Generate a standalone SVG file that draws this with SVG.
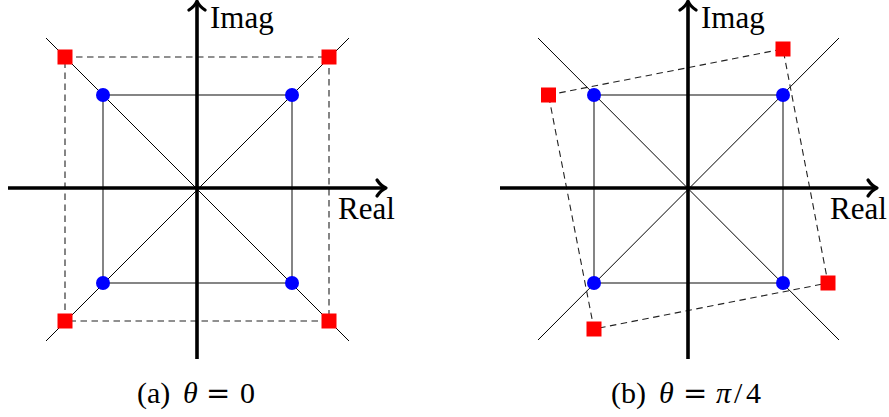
<svg xmlns="http://www.w3.org/2000/svg" width="889" height="417" viewBox="0 0 889 417">
<style>
.axis{stroke:#000;stroke-width:3.6;fill:none}
.tip{stroke:#000;stroke-width:3.2;fill:none;stroke-linecap:round;stroke-linejoin:round}
.diag{stroke:#000;stroke-width:1;fill:none}
.sq{stroke:#444;stroke-width:1.3;fill:none}
.dash{stroke:#222;stroke-width:1.1;fill:none;stroke-dasharray:6.5 4.5}
.dot{fill:#0000ff}
.red{fill:#ff0000}
.lbl{font-family:"Liberation Serif","Times New Roman",serif;font-size:31px;fill:#000}
.cap{font-family:"Liberation Serif","Times New Roman",serif;font-size:30px;fill:#000}
.it{font-style:italic}
.eq{font-family:"DejaVu Serif",serif;font-size:29px}
</style>
<rect width="889" height="417" fill="#fff"/>
<g id="connectors">
  <path class="diag" d="M46,38 L349,341 M46,341 L349,38"/>
  <rect class="sq" x="103" y="95" width="189" height="188"/>
  <rect class="dash" x="65" y="57" width="264" height="264"/>
  <path class="diag" d="M538,38 L839,340 M538,340 L839,38"/>
  <rect class="sq" x="594" y="95" width="189" height="188"/>
  <path class="dash" d="M548.5,95 L783,49 L828,283 L594,329 Z"/>
</g>
<g id="axes-a">
  <path class="axis" d="M8,188 L384,188 M197,359 L197,3"/>
  <path class="tip" d="M377,180 Q381,186 386,188 Q381,190 377,196"/>
  <path class="tip" d="M189,10 Q195,6 197,1 Q199,6 205,10"/>
</g>
<g id="axes-b">
  <path class="axis" d="M500,188 L875,188 M688,359 L688,3"/>
  <path class="tip" d="M868,180 Q872,186 877,188 Q872,190 868,196"/>
  <path class="tip" d="M680,10 Q686,6 688,1 Q690,6 696,10"/>
</g>
<g id="nodes-a">
  <circle id="a-p1" class="dot" cx="103" cy="95" r="7"/>
  <circle id="a-p2" class="dot" cx="292" cy="95" r="7"/>
  <circle id="a-p3" class="dot" cx="103" cy="283" r="7"/>
  <circle id="a-p4" class="dot" cx="292" cy="283" r="7"/>
  <rect id="a-q1" class="red" x="57.5" y="49.5" width="15" height="15"/>
  <rect id="a-q2" class="red" x="321.5" y="49.5" width="15" height="15"/>
  <rect id="a-q3" class="red" x="57.5" y="313.5" width="15" height="15"/>
  <rect id="a-q4" class="red" x="321.5" y="313.5" width="15" height="15"/>
</g>
<g id="nodes-b">
  <circle id="b-p1" class="dot" cx="594" cy="95" r="7"/>
  <circle id="b-p2" class="dot" cx="783" cy="95" r="7"/>
  <circle id="b-p3" class="dot" cx="594" cy="283" r="7"/>
  <circle id="b-p4" class="dot" cx="783" cy="283" r="7"/>
  <rect id="b-q1" class="red" x="541" y="87.5" width="15" height="15"/>
  <rect id="b-q2" class="red" x="775.5" y="41.5" width="15" height="15"/>
  <rect id="b-q3" class="red" x="820.5" y="275.5" width="15" height="15"/>
  <rect id="b-q4" class="red" x="586.5" y="321.5" width="15" height="15"/>
</g>
<g id="labels">
  <text class="lbl" x="210" y="28">Imag</text>
  <text class="lbl" x="338" y="219">Real</text>
  <text class="lbl" x="701" y="28">Imag</text>
  <text class="lbl" x="830" y="219">Real</text>
  <text class="cap" y="403"><tspan x="137">(a)</tspan><tspan class="it" x="183">θ</tspan><tspan class="eq" x="206">=</tspan><tspan x="240">0</tspan></text>
  <text class="cap" y="403"><tspan x="611">(b)</tspan><tspan class="it" x="659">θ</tspan><tspan class="eq" x="683">=</tspan><tspan class="it" x="716">π</tspan><tspan x="734">/</tspan><tspan x="746">4</tspan></text>
</g>
</svg>
